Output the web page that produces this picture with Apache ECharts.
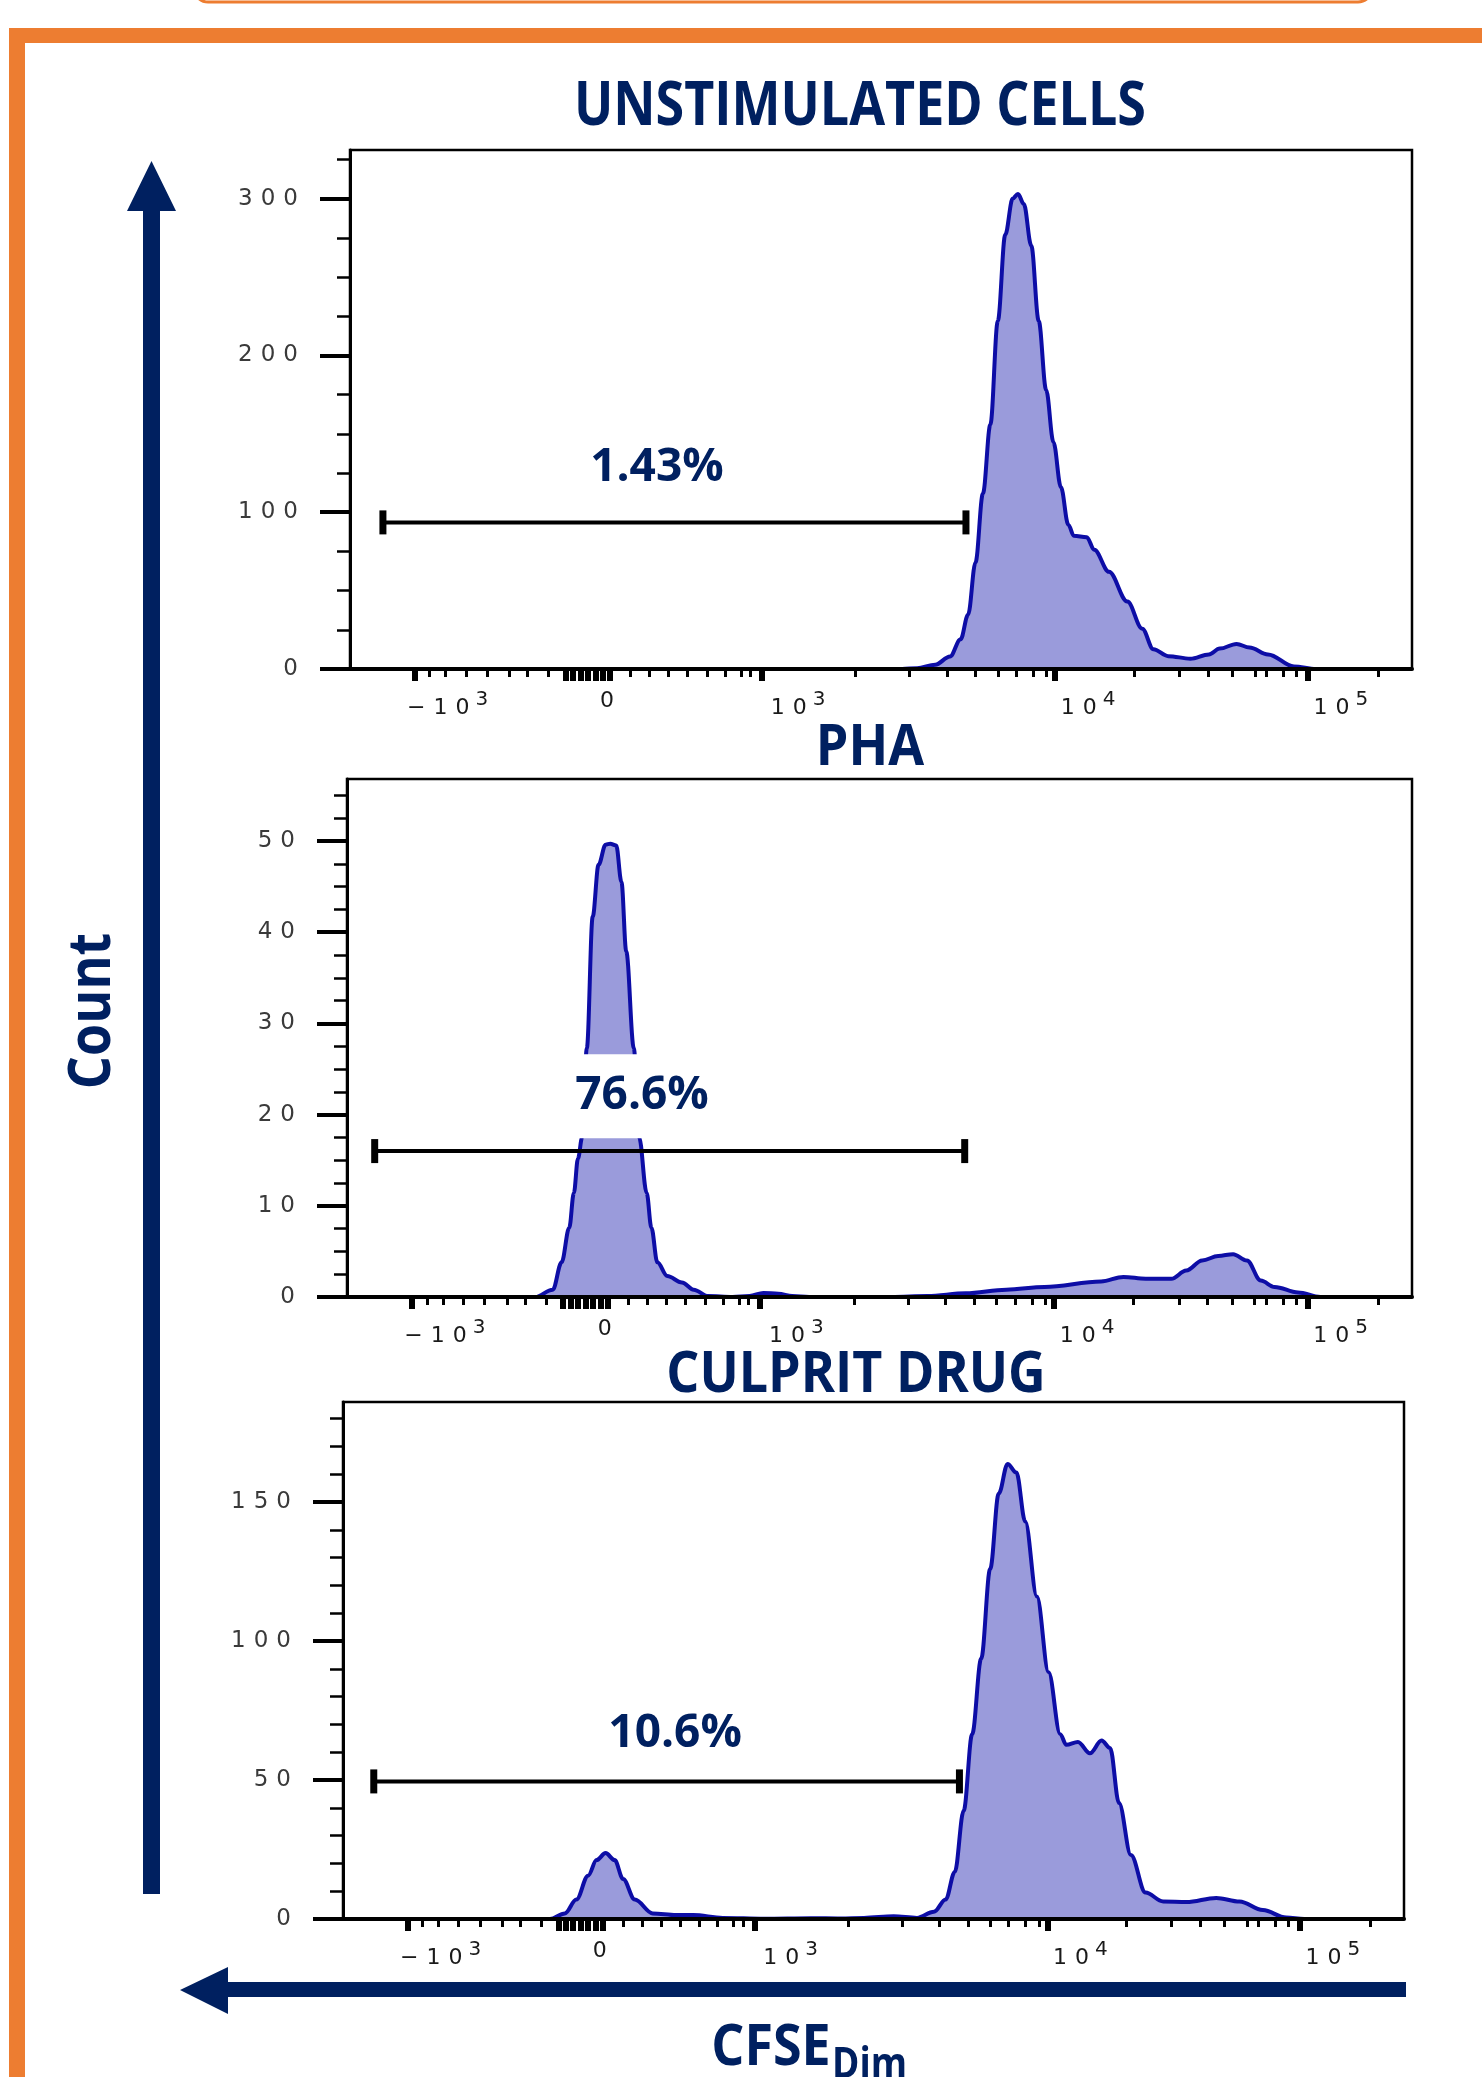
<!DOCTYPE html>
<html>
<head>
<meta charset="utf-8">
<title>CFSE histograms</title>
<script src="https://cdn.jsdelivr.net/npm/echarts@6.0.0/dist/echarts.min.js"></script>
<style>
  html, body { margin: 0; padding: 0; background: #fff; }
  #main { width: 1482px; height: 2077px; }
</style>
</head>
<body>
<div id="main"></div>
<script>
// panel titles and gate percentages
var panelTitles = ['UNSTIMULATED CELLS', 'PHA', 'CULPRIT DRUG'];
var gatePct = ['1.43%', '76.6%', '10.6%'];

// x is in display channels (0-1000 across the plot, biexponential CFSE scale)
var unstimX = [0, 520, 534, 551, 565, 575, 582, 589, 596, 603, 610, 617, 624, 629, 634.5, 641.5, 648.5, 655.5, 662.4, 669.4, 676.4, 681.5, 693.8, 700.8, 714.7, 732, 746, 756.5, 770.5, 791.3, 808.8, 819, 834.8, 847, 864.4, 888.9, 909.6, 1000];
var unstimCount = [0, 0, 0.5, 2.7, 8, 19, 34.6, 68, 112, 156, 222, 277, 300, 303, 296.5, 270, 222, 178, 144.6, 116, 92, 85, 84, 76, 62, 43, 25.7, 12.6, 8.2, 6.6, 9.3, 13, 16, 13.7, 9.3, 1.6, 0, 0];

var phaX = [0, 176.7, 193.2, 201.5, 208.7, 213, 216.9, 220.8, 225.2, 230.7, 236.2, 242.8, 247.2, 252.8, 257.7, 262.2, 269.3, 274.3, 281.4, 285.8, 291.4, 300.7, 314.5, 325.5, 339, 362, 378, 391, 405, 418, 434, 511, 545, 581, 619, 655, 708, 729, 750, 774, 788, 803, 818, 832, 845, 858, 871, 893, 914, 1000];
var phaCount = [0, 0, 0.8, 3.8, 7.6, 11.4, 15.2, 17.5, 27.3, 41.7, 47.4, 49.6, 49.7, 49.5, 45.5, 37.9, 27.3, 17.5, 11.4, 7.6, 3.8, 2.3, 1.6, 0.8, 0.1, 0, 0.1, 0.45, 0.35, 0.1, 0, 0, 0.1, 0.4, 0.8, 1.1, 1.7, 2.2, 2.0, 2.0, 2.9, 4.0, 4.5, 4.7, 4.0, 1.8, 1.1, 0.5, 0, 0];

var drugX = [0, 195, 209, 220, 231, 239, 247.5, 256, 264, 275, 292, 314, 330, 358, 397, 441, 469, 491, 519, 541, 557, 568, 576.6, 585, 593, 601.5, 610, 618, 626.4, 634.7, 643, 654, 665, 676, 681.7, 692.7, 704, 715, 723, 731.4, 742.6, 756.4, 773, 795, 823, 845, 867, 889, 906, 1000];
var drugCount = [0, 0, 2.0, 7, 15.6, 21.2, 23.7, 21.2, 14.4, 7, 2.0, 1.4, 1.4, 0.4, 0.1, 0.3, 0.2, 0.4, 1.0, 0.4, 2.6, 7, 16.9, 39, 66.5, 93.7, 126, 153, 163.7, 160.6, 143, 116, 88.8, 66.5, 62.7, 63.7, 59.6, 64.2, 61.5, 41.7, 23, 9.5, 6.3, 6.1, 7.6, 6.3, 3.2, 0.5, 0, 0];

// gates: start / end channel and count level
var gateStart = [31, 26, 29];
var gateEnd = [580, 580, 581];
var gateLevel = [93.5, 16, 49.5];

// x axis ticks (channels) and labels
var xMajorTicks = [61, 203, 210, 217, 224, 231, 238, 245, 388, 664, 902];
var xMinorTicks = [75, 90, 109, 129, 150, 167, 187, 264, 282, 300, 318, 336, 353, 368, 377,
  476, 527, 562, 589, 610, 627, 643, 656, 738, 781, 808, 831, 852, 863, 879, 891, 968];
var xLabelPos = [91, 242, 421, 694, 932];
var xLabelBase = ['\u221210', '0', '10', '10', '10'];
var xLabelExp = ['3', '', '3', '4', '5'];

// y axis ticks
var yMax = [331, 56.8, 186];
var yMajor = [[0, 100, 200, 300], [0, 10, 20, 30, 40, 50], [0, 50, 100, 150]];
var yMinorStep = [25, 2.5, 10];

var NAVY = '#002060';
var ORANGE = '#ED7D31';

var panels = [
  { grid: { left: 350, top: 150, width: 1062, height: 519 }, x: unstimX, y: unstimCount, label: [289, 128] },
  { grid: { left: 347, top: 779, width: 1065, height: 518 }, x: phaX, y: phaCount, label: [277, 22] },
  { grid: { left: 343, top: 1402, width: 1061, height: 517 }, x: drugX, y: drugCount, label: [313, 66.5] }
];

function spaced(s, style) {
  return s.split('').map(function (c) { return '{' + style + '|' + c + '}'; }).join('');
}

function zip(a, b) {
  return a.map(function (v, i) { return [v, b[i]]; });
}

function minorTicks(step, max, majors) {
  var out = [];
  for (var v = step; v <= max; v += step) {
    var r = Math.round(v * 10) / 10;
    if (majors.indexOf(r) < 0) out.push(r);
  }
  return out;
}

var grids = [], xAxes = [], yAxes = [], series = [];

panels.forEach(function (p, i) {
  grids.push({
    left: p.grid.left, top: p.grid.top, width: p.grid.width, height: p.grid.height,
    show: true, borderColor: '#000', borderWidth: 2.5, backgroundColor: '#fff'
  });

  // major x ticks + labels
  xAxes.push({
    gridIndex: i, type: 'value', min: 0, max: 1000, position: 'bottom', z: 5,
    axisLine: { show: true, onZero: false, lineStyle: { color: '#000', width: 4 } },
    axisTick: { show: true, customValues: xMajorTicks, length: 12, lineStyle: { color: '#000', width: 6 } },
    axisLabel: {
      show: true, customValues: xLabelPos, margin: 21,
      formatter: function (v) {
        var k = xLabelPos.indexOf(v);
        if (k < 0) return '';
        var s = spaced(xLabelBase[k], 'b');
        if (xLabelExp[k]) s += spaced(xLabelExp[k], 's');
        return s;
      },
      rich: {
        b: { fontFamily: 'DejaVu Sans', fontSize: 22, color: '#1a1a1a', padding: [0, 4] },
        s: { fontFamily: 'DejaVu Sans', fontSize: 20, color: '#1a1a1a', padding: [0, 2, 16, 2] }
      }
    },
    splitLine: { show: false }
  });
  // minor x ticks
  xAxes.push({
    gridIndex: i, type: 'value', min: 0, max: 1000, position: 'bottom', z: 5,
    axisLine: { show: false },
    axisTick: { show: true, customValues: xMinorTicks, length: 8, lineStyle: { color: '#000', width: 3 } },
    axisLabel: { show: false },
    splitLine: { show: false }
  });

  yAxes.push({
    gridIndex: i, type: 'value', min: 0, max: yMax[i], position: 'left', z: 5,
    axisLine: { show: true, onZero: false, lineStyle: { color: '#000', width: 3 } },
    axisTick: { show: true, customValues: yMajor[i], length: 30, lineStyle: { color: '#000', width: 4 } },
    axisLabel: {
      show: true, customValues: yMajor[i], margin: 48,
      formatter: function (v) { return spaced(String(v), 'd'); },
      rich: { d: { fontFamily: 'DejaVu Sans', fontSize: 23, color: '#3a3a3a', padding: [0, 4] } }
    },
    splitLine: { show: false }
  });
  yAxes.push({
    gridIndex: i, type: 'value', min: 0, max: yMax[i], position: 'left', z: 5,
    axisLine: { show: false },
    axisTick: { show: true, customValues: minorTicks(yMinorStep[i], yMax[i], yMajor[i]), length: 13, lineStyle: { color: '#000', width: 2.5 } },
    axisLabel: { show: false },
    splitLine: { show: false }
  });

  // histogram
  series.push({
    type: 'line', xAxisIndex: 2 * i, yAxisIndex: 2 * i,
    data: zip(p.x, p.y),
    symbol: 'none', smooth: 0.35, smoothMonotone: 'x', silent: true, z: 2,
    lineStyle: { color: '#0d0da6', width: 4 },
    areaStyle: { color: '#9a9bdb', opacity: 1 }
  });

  // gate bar with its percentage
  series.push({
    type: 'line', xAxisIndex: 2 * i, yAxisIndex: 2 * i,
    data: [[gateStart[i], gateLevel[i]], [gateEnd[i], gateLevel[i]]],
    symbol: 'rect', symbolSize: [7, 24], silent: true, z: 6,
    itemStyle: { color: '#000' },
    lineStyle: { color: '#000', width: 4 },
    markPoint: {
      symbol: 'rect', symbolSize: 1, silent: true,
      itemStyle: { color: 'rgba(0,0,0,0)' },
      data: [{ coord: p.label }],
      label: {
        show: true, position: 'inside', formatter: gatePct[i],
        fontFamily: 'Open Sans', fontWeight: 'bold', fontSize: 46, lineHeight: 40,
        color: NAVY, backgroundColor: '#fff', padding: [22, 8]
      }
    }
  });
});

function bigText(text, x, y, size, scaleY, align) {
  return {
    type: 'text', x: x, y: y, scaleY: scaleY || 1, z: 10,
    style: {
      text: text, fill: NAVY, fontFamily: 'Open Sans', fontWeight: 'bold', fontSize: size,
      align: align || 'center', textAlign: align || 'center',
      verticalAlign: 'middle', textVerticalAlign: 'middle'
    }
  };
}

var graphics = [
  // orange frame
  { type: 'rect', shape: { x: 194, y: -40, width: 1178, height: 42, r: 14 }, style: { fill: null, stroke: ORANGE, lineWidth: 3 } },
  { type: 'rect', shape: { x: 9, y: 28, width: 1473, height: 15 }, style: { fill: ORANGE } },
  { type: 'rect', shape: { x: 9, y: 28, width: 16, height: 2049 }, style: { fill: ORANGE } },
  // Count arrow (up)
  { type: 'polygon', shape: { points: [[127, 211], [151.5, 161], [176, 211], [160, 211], [160, 1894], [143, 1894], [143, 211]] }, style: { fill: NAVY } },
  // CFSE arrow (left)
  { type: 'polygon', shape: { points: [[180, 1990], [228, 1967], [228, 1982], [1406, 1982], [1406, 1997], [228, 1997], [228, 2014]] }, style: { fill: NAVY } },
  bigText(panelTitles[0], 860, 108, 52, 1.18),
  bigText(panelTitles[1], 870, 749, 52, 1.1),
  bigText(panelTitles[2], 856, 1376, 52, 1.1),
  bigText('CFSE', 771, 2049, 52, 1.1),
  bigText('Dim', 832, 2066, 37, 1.15, 'left')
];
var countText = bigText('Count', 93, 1011, 52, 1.13);
countText.rotation = Math.PI / 2;
graphics.push(countText);

var chart = echarts.init(document.getElementById('main'), null, { renderer: 'canvas' });
chart.setOption({
  backgroundColor: '#fff',
  animation: false,
  grid: grids,
  xAxis: xAxes,
  yAxis: yAxes,
  series: series,
  graphic: { elements: graphics }
});
window.addEventListener('resize', function () { chart.resize(); });
</script>
</body>
</html>
